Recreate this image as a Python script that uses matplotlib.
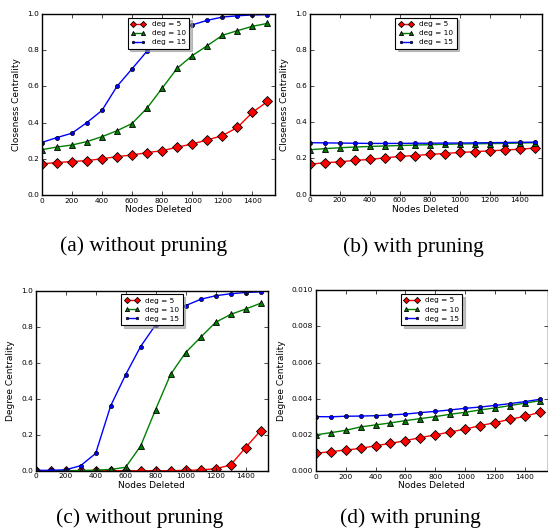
import matplotlib
matplotlib.use('Agg')
import matplotlib.pyplot as plt

plt.style.use('classic')

# data
nodes_deleted = [0, 100, 200, 300, 400, 500, 600, 700, 800, 900, 1000, 1100, 1200, 1300, 1400, 1500]
series_labels = ['deg = 5', 'deg = 10', 'deg = 15']

# (a) closeness, without pruning
close_nopr_5 = [0.172, 0.179, 0.185, 0.190, 0.200, 0.212, 0.221, 0.234, 0.245, 0.264, 0.282, 0.304, 0.328, 0.373, 0.456, 0.517]
close_nopr_10 = [0.250, 0.265, 0.276, 0.295, 0.322, 0.355, 0.395, 0.480, 0.590, 0.700, 0.770, 0.825, 0.882, 0.908, 0.932, 0.948]
close_nopr_15 = [0.290, 0.317, 0.341, 0.400, 0.467, 0.600, 0.697, 0.795, 0.875, 0.920, 0.940, 0.965, 0.983, 0.990, 0.995, 0.997]

# (b) closeness, with pruning
close_pr_5 = [0.168, 0.176, 0.181, 0.189, 0.194, 0.203, 0.211, 0.216, 0.222, 0.227, 0.233, 0.237, 0.242, 0.246, 0.251, 0.257]
close_pr_10 = [0.248, 0.254, 0.259, 0.263, 0.266, 0.269, 0.271, 0.274, 0.276, 0.278, 0.280, 0.281, 0.282, 0.283, 0.285, 0.287]
close_pr_15 = [0.287, 0.286, 0.285, 0.284, 0.283, 0.283, 0.283, 0.284, 0.284, 0.285, 0.285, 0.286, 0.287, 0.288, 0.289, 0.290]

# (c) degree, without pruning
deg_nopr_5 = [0.0, 0.0, 0.0, 0.0, 0.0, 0.0, 0.0, 0.0, 0.0, 0.0, 0.002, 0.004, 0.011, 0.031, 0.128, 0.222]
deg_nopr_10 = [0.0, 0.0, 0.0, 0.001, 0.003, 0.007, 0.019, 0.137, 0.340, 0.535, 0.656, 0.741, 0.824, 0.868, 0.898, 0.930]
deg_nopr_15 = [0.002, 0.002, 0.005, 0.028, 0.096, 0.360, 0.533, 0.690, 0.810, 0.870, 0.917, 0.952, 0.972, 0.983, 0.990, 0.994]

# (d) degree, with pruning
deg_pr_5 = [0.00098, 0.00107, 0.00116, 0.00125, 0.00140, 0.00153, 0.00168, 0.00185, 0.00200, 0.00216, 0.00232, 0.00251, 0.00268, 0.00286, 0.00303, 0.00325]
deg_pr_10 = [0.00200, 0.00212, 0.00225, 0.00244, 0.00255, 0.00266, 0.00279, 0.00290, 0.00301, 0.00314, 0.00325, 0.00338, 0.00349, 0.00362, 0.00376, 0.00389]
deg_pr_15 = [0.00301, 0.00300, 0.00303, 0.00304, 0.00306, 0.00310, 0.00315, 0.00323, 0.00330, 0.00338, 0.00347, 0.00354, 0.00363, 0.00373, 0.00384, 0.00397]

W, H = 548.0, 529.0


def px_axes(fig, left, top, right, bottom):
    return fig.add_axes([left / W, 1 - bottom / H, (right - left) / W, (bottom - top) / H])


def panel(ax, s5, s10, s15, ylabel, ymax, yfmt):
    ax.plot(nodes_deleted, s5, color='r', marker='D', markersize=5.2, mec='k', mew=0.6, lw=1.0, label=series_labels[0])
    ax.plot(nodes_deleted, s10, color='#008000', marker='^', markersize=5, mec='k', mew=0.6, lw=1.0, label=series_labels[1])
    ax.plot(nodes_deleted, s15, color='b', marker='o', markersize=3, mec='k', mew=0.5, lw=1.0, label=series_labels[2])
    ax.set_xlim(0, 1550)
    ax.set_ylim(0, ymax)
    ax.set_xticks([0, 200, 400, 600, 800, 1000, 1200, 1400])
    ax.set_yticks([ymax * i / 5 for i in range(6)])
    ax.set_yticklabels([yfmt % (ymax * i / 5) for i in range(6)])
    ax.tick_params(labelsize=5.3, pad=2, length=3)
    ax.set_xlabel('Nodes Deleted', fontsize=6.5, labelpad=1)
    ax.set_ylabel(ylabel, fontsize=6.5, labelpad=4)
    leg = ax.legend(loc='upper center', numpoints=2, fontsize=5.3,
                    shadow={'color': '0.6', 'alpha': 0.6}, markerscale=0.6,
                    fancybox=False, handlelength=2.0, labelspacing=0.4,
                    borderpad=0.45, borderaxespad=0.5)
    leg.get_frame().set_linewidth(0.8)


fig = plt.figure(figsize=(5.48, 5.29), dpi=100, facecolor='white')

ax_a = px_axes(fig, 41.7, 14, 275, 195)
panel(ax_a, close_nopr_5, close_nopr_10, close_nopr_15, 'Closeness Centrality', 1.0, '%.1f')
ax_b = px_axes(fig, 309.7, 14, 542, 194.5)
panel(ax_b, close_pr_5, close_pr_10, close_pr_15, 'Closeness Centrality', 1.0, '%.1f')
ax_c = px_axes(fig, 35.7, 290.7, 268, 470.7)
panel(ax_c, deg_nopr_5, deg_nopr_10, deg_nopr_15, 'Degree Centrality', 1.0, '%.1f')
ax_d = px_axes(fig, 315.7, 290.3, 547.5, 471)
panel(ax_d, deg_pr_5, deg_pr_10, deg_pr_15, 'Degree Centrality', 0.010, '%.3f')

captions = [('(a) without pruning', 144, 246), ('(b) with pruning', 413, 247),
            ('(c) without pruning', 140, 518), ('(d) with pruning', 410, 518)]
for text, cx, cy in captions:
    fig.text(cx / W, 1 - cy / H, text, ha='center', va='center',
             fontsize=15.5, family='Liberation Serif')

fig.savefig('out.png', dpi=100, facecolor='white')
